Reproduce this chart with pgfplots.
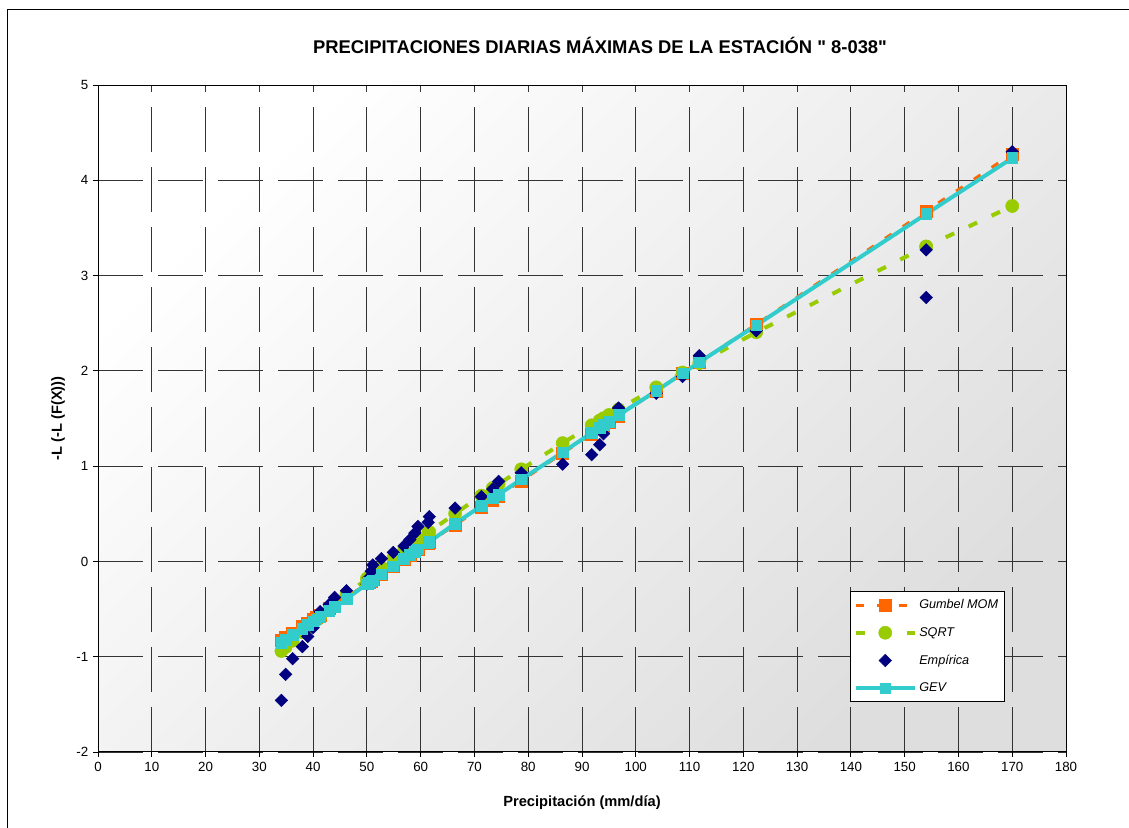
\documentclass[border=0pt]{standalone}
\usepackage{fontspec}
\setmainfont{Liberation Sans}[Ligatures=TeXOff]
\usepackage{pgfplots}
\usepackage{pgfplotstable}
\pgfplotsset{compat=1.18}
\definecolor{gorange}{RGB}{255,102,0}
\definecolor{sgreen}{RGB}{153,204,0}
\definecolor{enavy}{RGB}{0,0,128}
\definecolor{gcyan}{RGB}{51,204,204}
\pgfplotstableread{
x gum sqr emp gev
34.1 -0.831 -0.940 -1.458 -0.851
34.9 -0.801 -0.898 -1.185 -0.821
36.2 -0.752 -0.832 -1.021 -0.772
38.0 -0.684 -0.742 -0.895 -0.704
39.0 -0.647 -0.693 -0.788 -0.667
40.0 -0.609 -0.644 -0.694 -0.629
40.6 -0.586 -0.615 -0.607 -0.606
41.3 -0.560 -0.581 -0.527 -0.580
43.0 -0.496 -0.500 -0.451 -0.516
44.0 -0.459 -0.453 -0.378 -0.479
46.2 -0.376 -0.352 -0.307 -0.391
50.0 -0.233 -0.181 -0.238 -0.238
50.4 -0.218 -0.163 -0.171 -0.223
50.8 -0.203 -0.145 -0.104 -0.208
51.1 -0.192 -0.132 -0.037 -0.197
52.7 -0.132 -0.062 0.029 -0.135
54.9 -0.049 0.032 0.095 -0.050
56.9 0.026 0.117 0.161 0.026
58.0 0.068 0.163 0.229 0.068
58.9 0.102 0.200 0.297 0.102
59.5 0.124 0.224 0.367 0.126
61.4 0.195 0.302 0.410 0.197
61.6 0.203 0.310 0.470 0.205
66.4 0.383 0.502 0.560 0.398
71.3 0.568 0.691 0.680 0.583
73.4 0.647 0.771 0.760 0.662
74.5 0.688 0.812 0.840 0.703
78.7 0.846 0.967 0.930 0.861
86.4 1.135 1.242 1.020 1.145
91.8 1.338 1.429 1.120 1.348
93.3 1.395 1.479 1.225 1.405
94.0 1.421 1.503 1.340 1.431
95.0 1.459 1.537 1.455 1.469
96.8 1.526 1.597 1.610 1.536
103.8 1.789 1.827 1.765 1.789
108.7 1.974 1.983 1.940 1.974
111.8 2.090 2.081 2.160 2.090
122.4 2.489 2.405 2.420 2.479
154.0 3.677 3.305 2.770 3.647
154.0 3.677 3.305 3.270 3.647
170.0 4.278 3.730 4.300 4.233
}\datatable
\begin{document}
\begin{tikzpicture}
\path[use as bounding box] (0pt,0pt) rectangle (846.75pt,621pt);
\draw[black, line width=0.75pt] (5.25pt,-15pt) rectangle (860pt,613.5pt);
\node[font=\bfseries\fontsize{13.8}{16}\selectfont] at (450pt,587.25pt) {PRECIPITACIONES DIARIAS MÁXIMAS DE LA ESTACIÓN " 8-038"};
\begin{axis}[
  at={(73.5pt,57pt)}, anchor=south west,
  width=726pt, height=500.25pt, scale only axis,
  xmin=0, xmax=180, ymin=-2, ymax=5,
  xtick={0,10,...,180}, ytick={-2,-1,...,5},
  tick pos=left, tick align=outside, major tick length=3.75pt,
  tick style={black, line width=0.6pt},
  /pgf/number format/assume math mode=true,
  tick label style={font=\fontsize{10}{12}\selectfont},
  axis line style={black, line width=0.75pt},
  grid=major,
  major grid style={black!80, line width=0.6pt, dash pattern=on 34pt off 11pt},
  axis background/.style={shade, top color=white, bottom color=black!13, shading angle=45},
  xlabel={\bfseries Precipitación (mm/día)},
  ylabel={\bfseries -L (-L (F(X)))},
  label style={font=\bfseries\fontsize{11}{13}\selectfont},
  xlabel style={at={(axis description cs:0.5,-0.0765)}, anchor=center},
  ylabel style={at={(axis description cs:-0.0413,0.5)}, anchor=center},
  legend image code/.code={\draw[mark repeat=2,mark phase=2,#1] plot coordinates {(0pt,0pt) (22pt,0pt) (44pt,0pt)};},
  legend style={at={(0.937,0.075)}, anchor=south east, draw=black, fill=white,
    font=\itshape\fontsize{9.5}{11}\selectfont, row sep=8.5pt, inner xsep=3pt, inner ysep=4pt},
  legend cell align=left,
]
\addplot[gorange, line width=2.25pt, dash pattern=on 6pt off 10pt, mark=square*, mark size=4.5pt, mark options={solid, line width=0.4pt, fill=gorange}] table[x=x, y=gum] {\datatable};
\addlegendentry{Gumbel MOM}
\addplot[sgreen, line width=3pt, dash pattern=on 7pt off 12pt, mark=*, mark size=4.9pt, mark options={solid, line width=0.4pt, fill=sgreen}] table[x=x, y=sqr] {\datatable};
\addlegendentry{SQRT}
\addplot[enavy, only marks, mark=square*, mark size=3.3pt, mark options={rotate=45, line width=0.4pt, fill=enavy}] table[x=x, y=emp] {\datatable};
\addlegendentry{Empírica}
\addplot[gcyan, line width=3pt, mark=square*, mark size=4pt, mark options={solid, line width=0.4pt, fill=gcyan}] table[x=x, y=gev] {\datatable};
\addlegendentry{GEV}
\end{axis}
\end{tikzpicture}
\end{document}
